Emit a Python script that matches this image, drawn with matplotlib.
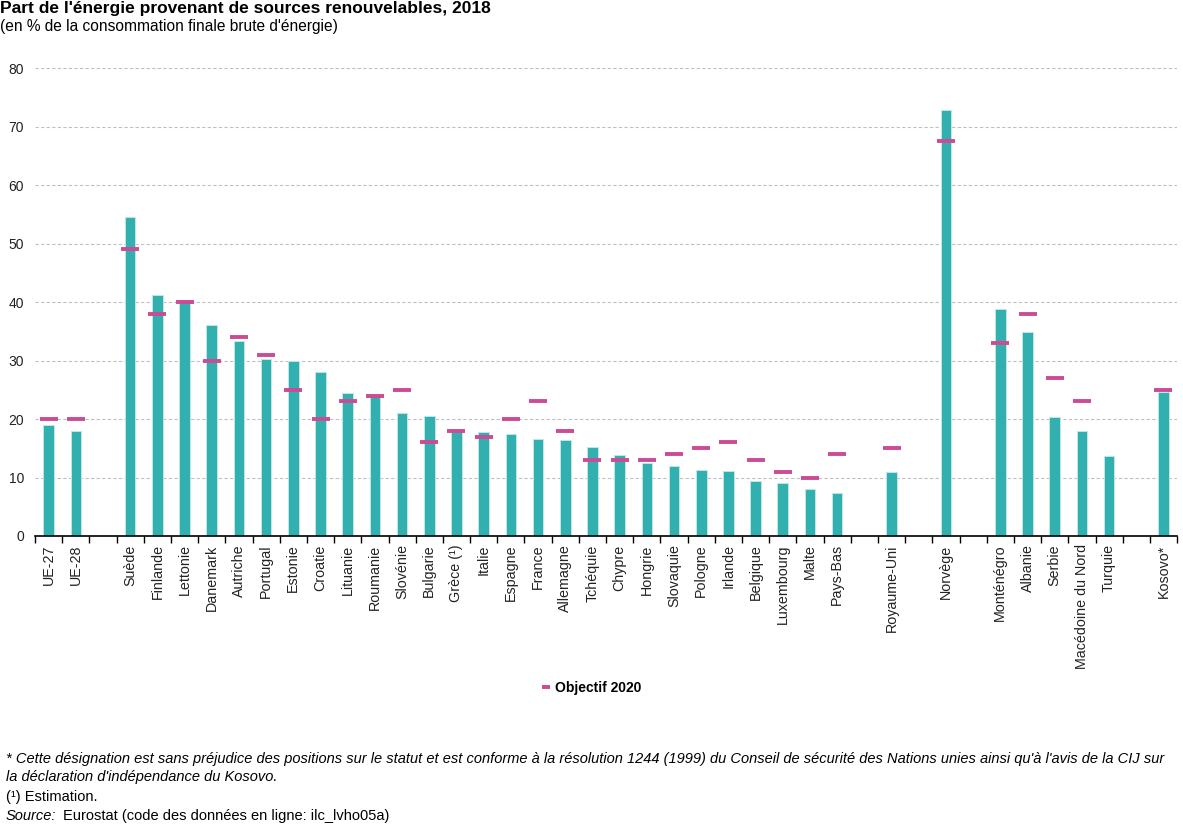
import matplotlib
matplotlib.use("Agg")
import matplotlib.pyplot as plt
import numpy as np

plt.rcParams['font.family'] = ['Liberation Sans', 'DejaVu Sans']

# categories, "" marks an empty slot between groups
labels = ["UE-27", "UE-28", "",
          "Suède", "Finlande", "Lettonie", "Danemark", "Autriche", "Portugal",
          "Estonie", "Croatie", "Lituanie", "Roumanie", "Slovénie", "Bulgarie",
          "Grèce (¹)", "Italie", "Espagne", "France", "Allemagne", "Tchéquie",
          "Chypre", "Hongrie", "Slovaquie", "Pologne", "Irlande", "Belgique",
          "Luxembourg", "Malte", "Pays-Bas", "",
          "Royaume-Uni", "",
          "Norvège", "",
          "Monténégro", "Albanie", "Serbie", "Macédoine du Nord", "Turquie", "",
          "Kosovo*"]

nan = np.nan
share = [18.9, 18.0, nan,
         54.6, 41.2, 40.3, 36.1, 33.4, 30.3,
         30.0, 28.0, 24.4, 23.9, 21.1, 20.5,
         18.0, 17.8, 17.4, 16.6, 16.4, 15.2,
         13.9, 12.5, 11.9, 11.3, 11.1, 9.4,
         9.1, 8.0, 7.4, nan,
         11.0, nan,
         72.8, nan,
         38.8, 34.9, 20.3, 18.0, 13.7, nan,
         24.6]

target = [20, 20, nan,
          49, 38, 40, 30, 34, 31,
          25, 20, 23, 24, 25, 16,
          18, 17, 20, 23, 18, 13,
          13, 13, 14, 15, 16, 13,
          11, 10, 14, nan,
          15, nan,
          67.5, nan,
          33, 38, 27, 23, nan, nan,
          25]

x = np.arange(len(labels))
share = np.array(share, dtype=float)
target = np.array(target, dtype=float)

fig = plt.figure(figsize=(11.83, 8.31), dpi=100)
ax = fig.add_axes([0.0296, 0.355, 0.9654, 0.563])

ax.bar(x, share, width=0.39, color='#32b0b0', edgecolor='#bfe8e8', linewidth=0.7, zorder=2)
ax.plot(x, target, linestyle='none', marker='_', markersize=12.5, mew=2.8,
        color='#cc4b96', zorder=3, label='Objectif 2020')

ax.set_xlim(-0.5, len(labels) - 0.5)
ax.set_ylim(0, 80)
ax.set_yticks(np.arange(0, 81, 10))
ax.yaxis.grid(True, linestyle=(0, (3, 2)), color='#c0c0c0', linewidth=0.8, zorder=0)

ax.set_xticks(x)
ax.set_xticklabels(labels, rotation=90, fontsize=10.3, color='#222222')
ax.tick_params(axis='x', which='major', length=0, pad=6)
ax.set_xticks(np.arange(-0.5, len(labels) + 0.5, 1), minor=True)
ax.tick_params(axis='x', which='minor', length=5, color='black', width=1)
ax.tick_params(axis='y', length=0, labelsize=10, labelcolor='#222222', pad=8)

for s in ['top', 'right', 'left']:
    ax.spines[s].set_visible(False)
ax.spines['bottom'].set_color('black')
ax.spines['bottom'].set_linewidth(1.2)

fig.text(0.0, 0.999, "Part de l'énergie provenant de sources renouvelables, 2018",
         fontsize=12.5, fontweight='bold', va='top', ha='left')
fig.text(0.0, 0.977, "(en % de la consommation finale brute d'énergie)",
         fontsize=11.2, va='top', ha='left')

leg = fig.legend(loc='center', bbox_to_anchor=(0.5, 0.172), frameon=False,
                 prop={'weight': 'bold', 'size': 10}, handlelength=0.6,
                 handletextpad=0.3, markerscale=0.5)

fs = 10.5
notes = ["* Cette désignation est sans préjudice des positions sur le statut et est conforme à la résolution 1244 (1999) du Conseil de sécurité des Nations unies ainsi qu'à l'avis de la CIJ sur",
         "la déclaration d'indépendance du Kosovo."]
fig.text(0.005, 0.087, notes[0], fontsize=fs, style='italic', ha='left', va='center')
fig.text(0.005, 0.065, notes[1], fontsize=fs, style='italic', ha='left', va='center')
fig.text(0.005, 0.041, "(¹) Estimation.", fontsize=fs, ha='left', va='center')
fig.text(0.005, 0.018, "Source:", fontsize=fs, style='italic', ha='left', va='center')
fig.text(0.053, 0.018, "Eurostat (code des données en ligne: ilc_lvho05a)", fontsize=fs,
         ha='left', va='center')

fig.savefig("out.png", dpi=100)
